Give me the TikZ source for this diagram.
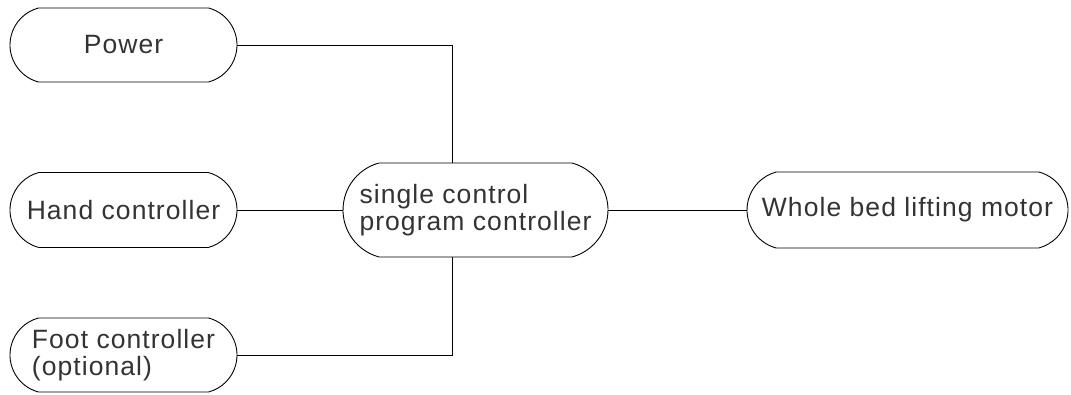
\documentclass[tikz,border=0pt]{standalone}
\usepackage{fontspec}
\setmainfont{Liberation Sans}[LetterSpace=4]
\usetikzlibrary{shapes.misc}

\begin{document}
\begin{tikzpicture}[x=1pt, y=1pt, line width=0.9pt,
    box/.style={draw, rounded rectangle, rounded rectangle arc length=150,
        inner sep=0pt, align=left,
        text=black!80, font=\fontsize{26.5}{26.5}\selectfont}]
    \useasboundingbox (0,0) rectangle (1071,395);
    \draw[every node/.style={box}]
        (123.5, 350) node[minimum width=227pt, minimum height=74pt] (power){Power}
        (123.5, 185) node[minimum width=227pt, minimum height=75pt] (hand){Hand controller}
        (123.5, 40) node[minimum width=227pt, minimum height=74pt] (foot){Foot controller\\(optional)}
        (475.5, 185) node[minimum width=265pt, minimum height=94pt] (ctrl){single control\\program controller}
        (907.5, 185) node[minimum width=321pt, minimum height=76pt] (motor){Whole bed lifting motor};
    \begin{scope}[-]
        \draw (power.east) -| ([xshift=-23.5pt]ctrl.north);
        \draw (hand.east) to (ctrl.west);
        \draw (foot.east) -| ([xshift=-23.5pt]ctrl.south);
        \draw (ctrl.east) to (motor.west);
    \end{scope}
\end{tikzpicture}
\end{document}
